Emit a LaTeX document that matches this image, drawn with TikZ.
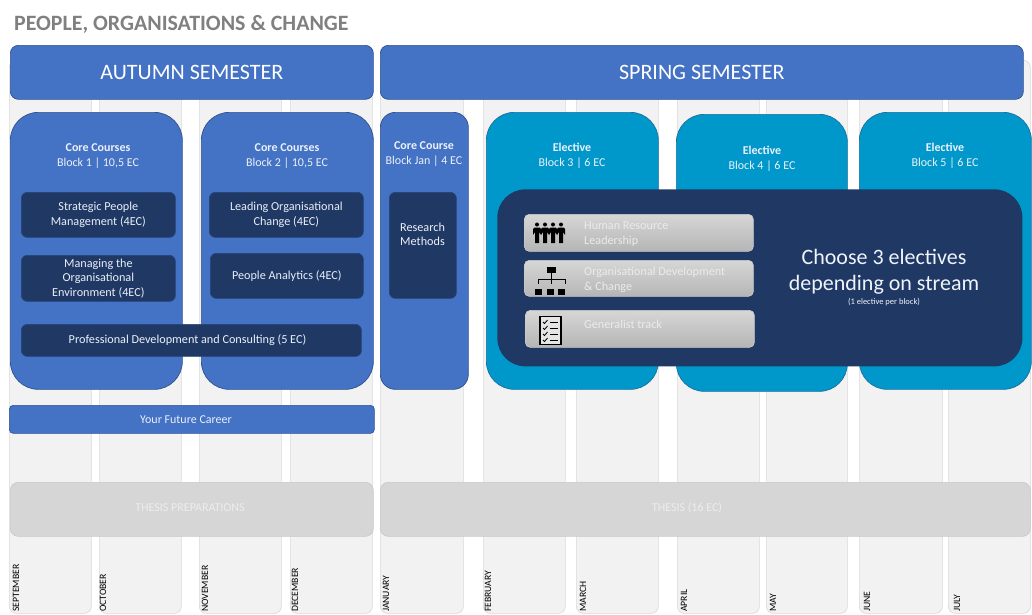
\documentclass[tikz,border=0pt]{standalone}
\usepackage{fontspec}
\setmainfont{Carlito}
\definecolor{coreblue}{HTML}{4472C4}
\definecolor{coreline}{HTML}{2F528F}
\definecolor{navy}{HTML}{1F3864}
\definecolor{teal}{HTML}{0098CB}
\definecolor{tealline}{HTML}{1B6E9E}
\tikzset{
  tile/.style={anchor=north west,inner sep=0pt,align=center,line width=.7pt},
  monthcol/.style={tile,fill=black!5,draw=black!15,rounded corners=7pt,minimum width=#1,minimum height=553pt},
  monthname/.style={rotate=90,anchor=west,inner sep=0pt,font=\fontsize{9.7}{10}\selectfont,text=black},
  semester/.style={tile,fill=coreblue,draw=coreline,rounded corners=8pt,minimum height=54pt,text=white,font=\fontsize{22}{24}\selectfont},
  coreblock/.style={tile,fill=coreblue,draw=coreline,rounded corners=#1,minimum height=277pt},
  electiveblock/.style={tile,fill=teal,draw=tealline,rounded corners=28pt,minimum width=172pt,minimum height=277pt},
  course/.style={tile,fill=navy,draw=navy!80!coreblue,rounded corners=6pt,text=white!88!coreblue,font=\fontsize{12.2}{14.5}\selectfont},
  blocktext/.style={align=center,inner sep=0pt,text=white!90!coreblue,font=\fontsize{12}{15}\selectfont},
  thesisbar/.style={tile,fill=black!16,draw=black!21,rounded corners=8pt,minimum height=54pt},
  thesistext/.style={inner sep=0pt,text=black!7,font=\fontsize{12}{14}\selectfont},
  streambar/.style={tile,top color=black!16,bottom color=black!29,draw=black!20,rounded corners=5pt,minimum width=229pt,minimum height=37pt},
  streamtext/.style={anchor=west,align=left,inner sep=0pt,text=black!8,font=\fontsize{12.2}{14.5}\selectfont},
}
\begin{document}
\begin{tikzpicture}[x=1pt,y=-1pt]
        \useasboundingbox (0,0) rectangle (1032,614);
        \node [anchor=west,inner sep=0pt,text=black!50,font=\bfseries\fontsize{21.9}{24}\selectfont] (title) at (14,24) {PEOPLE, ORGANISATIONS \& CHANGE};
        % month columns
        \foreach \m/\x/\w in {sep/9/82,oct/99/82,nov/199/82,dec/290/82,jan/380/83,feb/483/82,mar/576/82,apr/677/82,may/766/81,jun/859/83,jul/948/82}
            \node [monthcol=\w pt] (col\m) at (\x,60) {};
        \foreach \m/\x/\t in {sep/16/SEPTEMBER,oct/103/OCTOBER,nov/205/NOVEMBER,dec/295/DECEMBER,jan/386/JANUARY,feb/488/FEBRUARY,mar/583/MARCH,apr/684/APRIL,may/773/MAY,jun/867/JUNE,jul/957/JULY}
            \node [monthname] (name\m) at (\x,612) {\t};
        % semesters
        \node [semester,minimum width=363pt] (autumn) at (10,45) {AUTUMN SEMESTER};
        \node [semester,minimum width=643pt] (spring) at (380,45) {SPRING SEMESTER};
        % core blocks
        \node [coreblock=28pt,minimum width=172pt] (blockone) at (10,112) {};
        \node [coreblock=28pt,minimum width=172pt] (blocktwo) at (201,112) {};
        \node [coreblock=15pt,minimum width=88pt] (blockjan) at (380,112) {};
        \node [blocktext] (textone) at (98,156) {\textbf{Core Courses}\\Block 1 | 10,5 EC};
        \node [blocktext] (texttwo) at (287,156) {\textbf{Core Courses}\\Block 2 | 10,5 EC};
        \node [blocktext] (textjan) at (424,154) {\textbf{Core Course}\\Block Jan | 4 EC};
        \node [course,minimum width=154pt,minimum height=45pt] (strategic) at (21,192) {Strategic People\\Management (4EC)};
        \node [course,minimum width=154pt,minimum height=46pt] (managing) at (21,255) {Managing the\\Organisational\\Environment (4EC)};
        \node [course,minimum width=340pt,minimum height=32pt] (professional) at (21,324) {};
        \node [blocktext,font=\fontsize{12.2}{14.5}\selectfont] (professionaltext) at (187.5,340) {Professional Development and Consulting (5 EC)};
        \node [course,minimum width=154pt,minimum height=45pt] (leading) at (209,192) {Leading Organisational\\Change (4EC)};
        \node [course,minimum width=153pt,minimum height=45pt] (analytics) at (210,253) {People Analytics (4EC)};
        \node [course,minimum width=67pt,minimum height=106pt] (research) at (389,192) {};
        \node [blocktext,font=\fontsize{12.2}{14.5}\selectfont] (researchtext) at (422.5,234.5) {Research\\Methods};
        % electives
        \node [electiveblock] (blockthree) at (486,112) {};
        \node [electiveblock,minimum width=171pt] (blockfour) at (676,114) {};
        \node [electiveblock] (blockfive) at (859,112) {};
        \node [blocktext] (textthree) at (572,156) {\textbf{Elective}\\Block 3 | 6 EC};
        \node [blocktext] (textfour) at (762,158.5) {\textbf{Elective}\\Block 4 | 6 EC};
        \node [blocktext] (textfive) at (945,156) {\textbf{Elective}\\Block 5 | 6 EC};
        \node [tile,fill=navy,rounded corners=28pt,minimum width=525pt,minimum height=177pt] (panel) at (497,189) {};
        \node [streambar] (hr) at (524,214) {};
        \node [streambar,minimum height=36pt] (od) at (524,260) {};
        \node [streambar] (general) at (525,310) {};
        \node [streamtext] (hrtext) at (584,234) {Human Resource\\Leadership};
        \node [streamtext] (odtext) at (584,280) {Organisational Development\\\& Change};
        \node [streamtext] (generaltext) at (584,324) {Generalist track};
        \node [inner sep=0pt,text=white!92!coreblue,align=center,font=\fontsize{22}{26}\selectfont] (choose) at (884,271.5) {Choose 3 electives\\depending on stream};
        \node [inner sep=0pt,text=white!92!coreblue,font=\fontsize{8.5}{10}\selectfont] (perblock) at (884,302) {(1 elective per block)};
        % icons
        \foreach \x in {537,545,553,561} {
            \fill (\x,224.5) circle[radius=2pt];
            \fill (\x-4,235) -- (\x-4,229) -- (\x-2.5,227.5) -- (\x+2.5,227.5) -- (\x+4,229) -- (\x+4,235) -- (\x+2,232) -- (\x+2,243) -- (\x-2,243) -- (\x-2,232) -- cycle;
        }
        \fill (547,267) rectangle (556,273);
        \draw [line width=.8pt] (551.5,273)--(551.5,284) (538,284)--(538,279)--(565,279)--(565,284);
        \foreach \x in {535,547,558}
            \fill (\x,289) rectangle (\x+7,295);
        \draw [line width=1.3pt,fill=black!10] (540,316.5) rectangle (561,344.5);
        \foreach \y in {322,328,334,340} {
            \draw [line width=.8pt] (543,\y)--(544.5,\y+1.5)--(547.5,\y-2);
            \draw [line width=.9pt] (550,\y)--(558,\y);
        }
        % bars
        \node [tile,fill=coreblue,draw=coreline,rounded corners=4pt,minimum width=365pt,minimum height=28pt] (career) at (9,405) {};
        \node [blocktext] (careertext) at (186,419.5) {Your Future Career};
        \node [thesisbar,minimum width=363pt] (preparation) at (10,482) {};
        \node [thesistext] (preparationtext) at (190,507.5) {THESIS PREPARATIONS};
        \node [thesisbar,minimum width=650pt] (thesis) at (380,482) {};
        \node [thesistext] (thesistext) at (687,508) {THESIS (16 EC)};
    \end{tikzpicture}
\end{document}
